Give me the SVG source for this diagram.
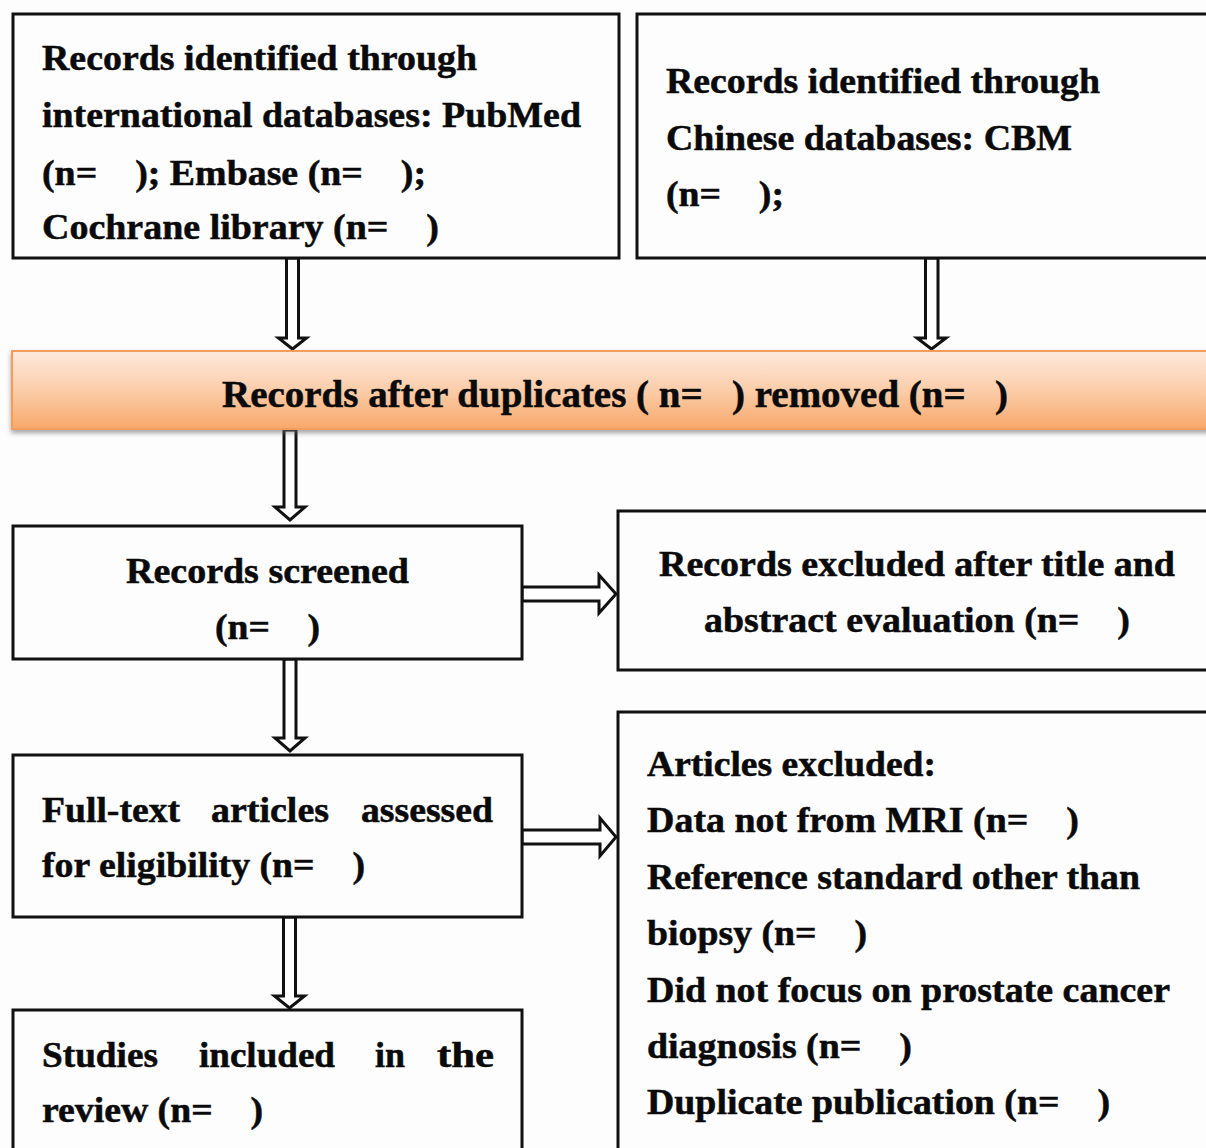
<svg xmlns="http://www.w3.org/2000/svg" width="1206" height="1148" viewBox="0 0 1206 1148">
<defs>
<linearGradient id="barGrad" x1="0" y1="0" x2="0" y2="1">
<stop offset="0" stop-color="#fde9dc"/>
<stop offset="0.5" stop-color="#fbcdaa"/>
<stop offset="1" stop-color="#f7a86a"/>
</linearGradient>
<filter id="shadow" x="-5%" y="-20%" width="110%" height="150%">
<feDropShadow dx="0" dy="3" stdDeviation="2.5" flood-color="#666" flood-opacity="0.6"/>
</filter>
</defs>
<style>
.box{fill:#fefdfe;stroke:#111;stroke-width:3}
.bar{fill:url(#barGrad);stroke:#f39c5b;stroke-width:2}
.arrow{fill:#fff;stroke:#111;stroke-width:3;stroke-linejoin:miter}
text{font-family:"Liberation Serif","Times New Roman",serif;font-weight:bold;font-size:35px;fill:#0a0a0a;stroke:#0a0a0a;stroke-width:0.5}
.bt{font-size:37px}
</style>
<rect x="0" y="0" width="1206" height="1148" fill="#fefdfe"/>

<g id="connectors">
<polygon class="arrow" points="286.5,258 286.5,338 278.5,338 292.5,349 306.5,338 298.5,338 298.5,258"/>
<polygon class="arrow" points="925.5,258 925.5,338 917,338 931.5,349 946,338 938,338 938,258"/>
<polygon class="arrow" points="284,430 284,507 275,507 290,520 305,507 296,507 296,430"/>
<polygon class="arrow" points="522,587 599,587 599,575 616,594 599,613 599,601 522,601"/>
<polygon class="arrow" points="284,659 284,738 275,738 290,751 305,738 296,738 296,659"/>
<polygon class="arrow" points="522,830 600,830 600,818 616,837 600,856 600,844 522,844"/>
<polygon class="arrow" points="283.5,917 283.5,996 274.5,996 289.5,1008 304.5,996 295.5,996 295.5,917"/>
</g>

<g id="n1">
<rect class="box" x="13" y="14" width="606" height="244"/>
<text x="42" y="70" textLength="435" lengthAdjust="spacingAndGlyphs">Records identified through</text>
<text x="42" y="127" textLength="539" lengthAdjust="spacingAndGlyphs">international databases: PubMed</text>
<text x="42" y="185" textLength="384" lengthAdjust="spacingAndGlyphs">(n=&#160;&#160;&#160;&#160;); Embase (n=&#160;&#160;&#160;&#160;);</text>
<text x="42" y="239" textLength="397" lengthAdjust="spacingAndGlyphs">Cochrane library (n=&#160;&#160;&#160;&#160;)</text>
</g>

<g id="n2">
<rect class="box" x="637" y="14" width="600" height="244"/>
<text x="666" y="93" textLength="434" lengthAdjust="spacingAndGlyphs">Records identified through</text>
<text x="666" y="150" textLength="406" lengthAdjust="spacingAndGlyphs">Chinese databases: CBM</text>
<text x="666" y="206" textLength="118" lengthAdjust="spacingAndGlyphs">(n=&#160;&#160;&#160;&#160;);</text>
</g>

<g id="bar">
<rect class="bar" x="12" y="351" width="1220" height="78" filter="url(#shadow)"/>
<text class="bt" x="222" y="407" textLength="786" lengthAdjust="spacingAndGlyphs">Records after duplicates ( n=&#160;&#160;&#160;) removed (n=&#160;&#160;&#160;)</text>
</g>

<g id="n3">
<rect class="box" x="13" y="526" width="509" height="133"/>
<text x="126" y="583" textLength="283" lengthAdjust="spacingAndGlyphs">Records screened</text>
<text x="215" y="639" textLength="105" lengthAdjust="spacingAndGlyphs">(n=&#160;&#160;&#160;&#160;)</text>
</g>

<g id="n4">
<rect class="box" x="618" y="511" width="610" height="159"/>
<text x="659" y="576" textLength="516" lengthAdjust="spacingAndGlyphs">Records excluded after title and</text>
<text x="704" y="632" textLength="426" lengthAdjust="spacingAndGlyphs">abstract evaluation (n=&#160;&#160;&#160;&#160;)</text>
</g>

<g id="n5">
<rect class="box" x="13" y="755" width="509" height="162"/>
<text x="42" y="822" textLength="138" lengthAdjust="spacingAndGlyphs">Full-text</text>
<text x="211" y="822" textLength="118" lengthAdjust="spacingAndGlyphs">articles</text>
<text x="361" y="822" textLength="132" lengthAdjust="spacingAndGlyphs">assessed</text>
<text x="42" y="877" textLength="323" lengthAdjust="spacingAndGlyphs">for eligibility (n=&#160;&#160;&#160;&#160;)</text>
</g>

<g id="n6">
<rect class="box" x="13" y="1010" width="509" height="170"/>
<text x="42" y="1067" textLength="116" lengthAdjust="spacingAndGlyphs">Studies</text>
<text x="199" y="1067" textLength="136" lengthAdjust="spacingAndGlyphs">included</text>
<text x="375" y="1067" textLength="30" lengthAdjust="spacingAndGlyphs">in</text>
<text x="437" y="1067" textLength="57" lengthAdjust="spacingAndGlyphs">the</text>
<text x="42" y="1122" textLength="221" lengthAdjust="spacingAndGlyphs">review (n=&#160;&#160;&#160;&#160;)</text>
</g>

<g id="n7">
<rect class="box" x="618" y="712" width="610" height="470"/>
<text x="647" y="776" textLength="289" lengthAdjust="spacingAndGlyphs">Articles excluded:</text>
<text x="647" y="832" textLength="432" lengthAdjust="spacingAndGlyphs">Data not from MRI (n=&#160;&#160;&#160;&#160;)</text>
<text x="647" y="889" textLength="493" lengthAdjust="spacingAndGlyphs">Reference standard other than</text>
<text x="647" y="945" textLength="220" lengthAdjust="spacingAndGlyphs">biopsy (n=&#160;&#160;&#160;&#160;)</text>
<text x="647" y="1002" textLength="523" lengthAdjust="spacingAndGlyphs">Did not focus on prostate cancer</text>
<text x="647" y="1058" textLength="265" lengthAdjust="spacingAndGlyphs">diagnosis (n=&#160;&#160;&#160;&#160;)</text>
<text x="647" y="1114" textLength="463" lengthAdjust="spacingAndGlyphs">Duplicate publication (n=&#160;&#160;&#160;&#160;)</text>
</g>
</svg>
